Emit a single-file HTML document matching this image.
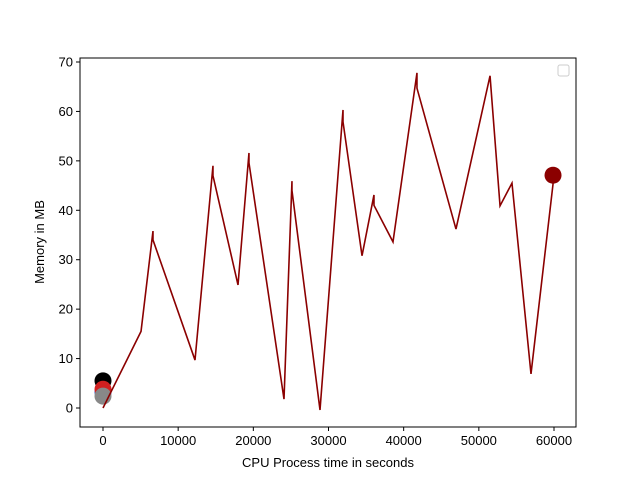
<!DOCTYPE html>
<html><head><meta charset="utf-8"><style>body{margin:0;background:#fff}svg{display:block}text{font-family:"Liberation Sans","DejaVu Sans",sans-serif;font-size:13px;fill:#000}</style></head>
<body>
<svg id="chart" width="640" height="480"></svg>
<script>
const xs=[0,5060,6650,6650,12240,14630,14630,17960,19420,19420,24080,25140,25140,28870,31930,31930,34460,36050,36050,38580,41770,41770,46960,51490,52820,54410,56940,59870,59870];
const ys=[0,15.5,35.8,34,9.7,49,47,24.9,51.6,49.6,1.8,45.9,44,-0.4,60.3,57.9,30.8,43.1,41,33.6,67.8,64.7,36.2,67.2,40.9,45.5,6.9,45.3,47.1];
const markerX=[0,0,0,0];
const markerY=[5.5,3.2,3.8,2.4];
const markerC=['#000','#3050c0','#d02020','#888'];
const endX=[59870];
const endY=[47.1];
const xTicks=[0,10000,20000,30000,40000,50000,60000];
const yTicks=[0,10,20,30,40,50,60,70];
const NS='http://www.w3.org/2000/svg';
const svg=document.getElementById('chart');
const L=80,R=576,T=58,B=427;
const sx=v=>103+v*(451/60000);
const sy=v=>408-v*(346/70);
function mk(t,a){const e=document.createElementNS(NS,t);for(const k in a)e.setAttribute(k,a[k]);svg.appendChild(e);return e;}
const frame=mk('rect',{x:L,y:T,width:R-L,height:B-T,fill:'none',stroke:'#000','stroke-width':1});


xTicks.forEach(v=>{const x=sx(v);
 const t=mk('line',{x1:x,x2:x,y1:B,y2:B+4,stroke:'#000'});
 
 
 const l=mk('text',{x:x,y:B+18,'text-anchor':'middle'});l.textContent=v;
 
 });
yTicks.forEach(v=>{const y=sy(v);
 const t=mk('line',{x1:L-4,x2:L,y1:y,y2:y,stroke:'#000'});
 
 
 const l=mk('text',{x:L-7,y:y+4.5,'text-anchor':'end'});l.textContent=v;
 
 });
markerX.forEach((x,i)=>{const c=mk('circle',{cx:sx(x),cy:sy(markerY[i]),r:8.5,fill:markerC[i]});
 
 });
const line=mk('polyline',{points:xs.map((x,i)=>sx(x)+','+sy(ys[i])).join(' '),fill:'none',stroke:'#8b0000','stroke-width':1.6});


endX.forEach((x,i)=>{const c=mk('circle',{cx:sx(x),cy:sy(endY[i]),r:8.5,fill:'#8b0000'});
 
 });
const xl=mk('text',{x:328,y:467,'text-anchor':'middle'});xl.textContent='CPU Process time in seconds';


const yl=mk('text',{x:44,y:242,'text-anchor':'middle',transform:'rotate(-90 44 242)'});yl.textContent='Memory in MB';


const lg=mk('rect',{x:558,y:65,width:11,height:11,rx:2,fill:'#fff',stroke:'#ccc'});


</script>
</body></html>
